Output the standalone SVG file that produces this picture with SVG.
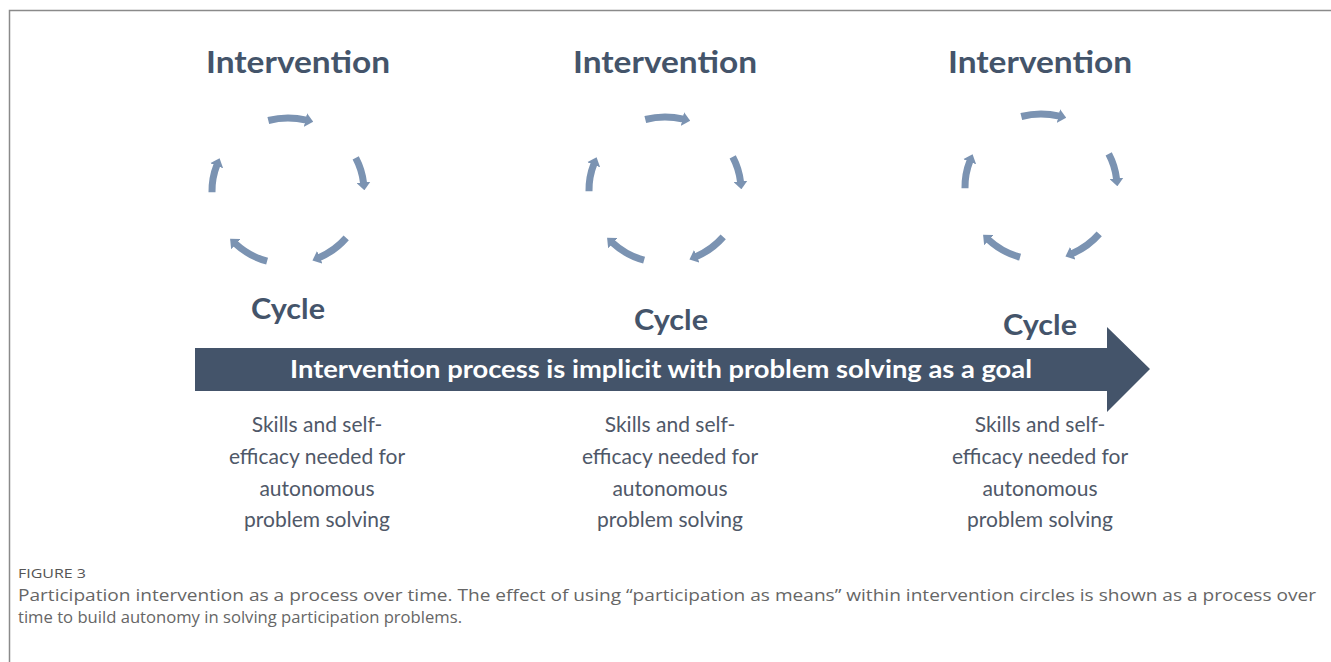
<svg xmlns="http://www.w3.org/2000/svg" xmlns:xlink="http://www.w3.org/1999/xlink" width="1331" height="662" viewBox="0 0 1331 662">
<style>
.title{font-family:Lato,"Open Sans","Liberation Sans",sans-serif;font-weight:700;font-size:30px;fill:#44546a;text-anchor:middle}
.cyc{font-family:Lato,"Open Sans","Liberation Sans",sans-serif;font-weight:700;font-size:29px;fill:#44546a;text-anchor:middle}
.body{font-family:Lato,"Open Sans","Liberation Sans",sans-serif;font-size:21px;fill:#4f5868;text-anchor:middle}
.band{font-family:Lato,"Open Sans","Liberation Sans",sans-serif;font-weight:700;font-size:25px;fill:#ffffff;text-anchor:middle}
.fig{font-family:"Open Sans","Liberation Sans",sans-serif;font-size:13px;fill:#555555}
.cap{font-family:"Open Sans","Liberation Sans",sans-serif;font-size:16.6px;fill:#666666}
.arc{fill:none;stroke:#7b93b2;stroke-width:7;marker-end:url(#ah)}
</style>
<defs>
<marker id="ah" markerUnits="userSpaceOnUse" viewBox="0 0 8 14" markerWidth="8" markerHeight="14" refX="1" refY="7" orient="auto">
<path d="M0,0 L8,7 L0,14 Z" fill="#7b93b2"/>
</marker>
<g id="ring">
<path class="arc" d="M-19.7,-70.5 A76 73 0 0 1 18.4,-70.8"/>
<path class="arc" d="M67.7,-33.1 A76 73 0 0 1 75.6,-7.6"/>
<path class="arc" d="M58.2,46.9 A76 73 0 0 1 30.9,66.7"/>
<path class="arc" d="M-20.9,70.2 A76 73 0 0 1 -52.8,52.5"/>
<path class="arc" d="M-76,1.3 A76 73 0 0 1 -71,-26.2"/>
</g>
</defs>
<rect width="1331" height="662" fill="#ffffff"/>
<path d="M9.5,662 V10.5 H1331" fill="none" stroke="#8a8a8a" stroke-width="1.5"/>

<g id="stage1">
<text class="title" x="298" y="73" textLength="184" lengthAdjust="spacingAndGlyphs">Intervention</text>
<g transform="translate(288,191)"><use xlink:href="#ring"/></g>
<text class="cyc" x="288" y="319" textLength="74" lengthAdjust="spacingAndGlyphs">Cycle</text>
<text class="body" x="317" y="432">Skills and self-</text>
<text class="body" x="317" y="464">efficacy needed for</text>
<text class="body" x="317" y="496">autonomous</text>
<text class="body" x="317" y="527">problem solving</text>
</g>

<g id="stage2">
<text class="title" x="665" y="73" textLength="184" lengthAdjust="spacingAndGlyphs">Intervention</text>
<g transform="translate(665,190)"><use xlink:href="#ring"/></g>
<text class="cyc" x="671" y="330" textLength="74" lengthAdjust="spacingAndGlyphs">Cycle</text>
<text class="body" x="670" y="432">Skills and self-</text>
<text class="body" x="670" y="464">efficacy needed for</text>
<text class="body" x="670" y="496">autonomous</text>
<text class="body" x="670" y="527">problem solving</text>
</g>

<g id="stage3">
<text class="title" x="1040" y="73" textLength="184" lengthAdjust="spacingAndGlyphs">Intervention</text>
<g transform="translate(1041,187)"><use xlink:href="#ring"/></g>
<text class="cyc" x="1040" y="335" textLength="74" lengthAdjust="spacingAndGlyphs">Cycle</text>
<text class="body" x="1040" y="432">Skills and self-</text>
<text class="body" x="1040" y="464">efficacy needed for</text>
<text class="body" x="1040" y="496">autonomous</text>
<text class="body" x="1040" y="527">problem solving</text>
</g>

<g id="connectors">
<path id="timeline" d="M195,348 H1107 V327 L1150,369 L1107,412 V391 H195 Z" fill="#44546a"/>
<text class="band" x="661" y="378" textLength="742" lengthAdjust="spacingAndGlyphs">Intervention process is implicit with problem solving as a goal</text>
</g>

<g id="caption">
<text class="fig" x="18" y="578" textLength="68" lengthAdjust="spacingAndGlyphs">FIGURE 3</text>
<text class="cap" x="18" y="601" textLength="1298" lengthAdjust="spacingAndGlyphs">Participation intervention as a process over time. The effect of using “participation as means” within intervention circles is shown as a process over</text>
<text class="cap" x="18" y="623" textLength="444" lengthAdjust="spacingAndGlyphs">time to build autonomy in solving participation problems.</text>
</g>
</svg>
